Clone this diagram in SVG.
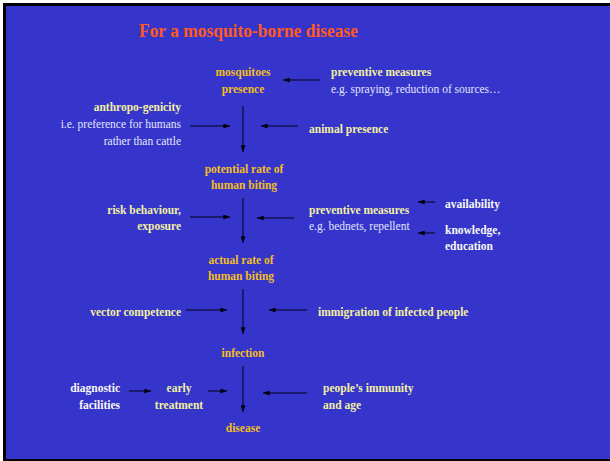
<svg xmlns="http://www.w3.org/2000/svg" width="610" height="461" viewBox="0 0 610 461">
<defs>
<marker id="ah" viewBox="0 0 8 6" refX="8" refY="3" markerWidth="7" markerHeight="5" markerUnits="userSpaceOnUse" orient="auto">
<path d="M0,0 L8,3 L0,6 z" fill="#000010"/>
</marker>
<style>
.node{fill:#F2BE22;font-weight:bold;text-anchor:middle}
.fac{fill:#F2F0A0;font-weight:bold}
.note{fill:#E4E4F8}
.wb{fill:#F8F8F0;font-weight:bold}
.title{fill:#FF5A1E;font-weight:bold;font-size:19px}
.r{text-anchor:end}
.m{text-anchor:middle}
#connectors line{stroke:#000010;stroke-width:1;marker-end:url(#ah)}
</style>
</defs>
<rect x="0" y="0" width="610" height="461" fill="#ffffff"/>
<rect x="3" y="3" width="607" height="458" fill="#000000"/>
<rect x="6" y="6" width="604" height="453" fill="#3535CC"/>
<g font-family="Liberation Serif, Times New Roman, serif" font-size="11.5">
<text class="title" x="139" y="37" textLength="219" lengthAdjust="spacingAndGlyphs">For a mosquito-borne disease</text>

<g id="mosquitoes-presence"><text class="node" x="243" y="76">mosquitoes</text><text class="node" x="243" y="93">presence</text></g>
<g id="potential-rate"><text class="node" x="244" y="173">potential rate of</text><text class="node" x="244" y="189">human biting</text></g>
<g id="actual-rate"><text class="node" x="241" y="264">actual rate of</text><text class="node" x="241" y="280">human biting</text></g>
<g id="infection"><text class="node" x="243" y="357">infection</text></g>
<g id="disease"><text class="node" x="243" y="432">disease</text></g>

<g id="preventive-spraying"><text class="fac" x="331" y="76">preventive measures</text><text class="note" x="331" y="93">e.g. spraying, reduction of sources…</text></g>
<g id="anthropo-genicity"><text class="fac r" x="181" y="111">anthropo-genicity</text><text class="note r" x="181" y="128">i.e. preference for humans</text><text class="note r" x="181" y="145">rather than cattle</text></g>
<g id="animal-presence"><text class="fac" x="309" y="133">animal presence</text></g>
<g id="risk-behaviour"><text class="fac r" x="181" y="214">risk behaviour,</text><text class="fac r" x="181" y="230">exposure</text></g>
<g id="preventive-bednets"><text class="fac" x="309" y="214">preventive measures</text><text class="note" x="309" y="230">e.g. bednets, repellent</text></g>
<g id="availability"><text class="wb" x="445" y="208">availability</text></g>
<g id="knowledge"><text class="wb" x="445" y="234">knowledge,</text><text class="wb" x="445" y="250">education</text></g>
<g id="vector-competence"><text class="fac r" x="181" y="316">vector competence</text></g>
<g id="immigration"><text class="fac" x="318" y="316">immigration of infected people</text></g>
<g id="diagnostic"><text class="wb r" x="120" y="392">diagnostic</text><text class="wb r" x="120" y="409">facilities</text></g>
<g id="early-treatment"><text class="fac m" x="179" y="392">early</text><text class="fac m" x="179" y="409">treatment</text></g>
<g id="immunity"><text class="fac" x="323" y="392">people’s immunity</text><text class="fac" x="323" y="409">and age</text></g>
</g>
<g id="connectors">
<line x1="320" y1="80" x2="283" y2="80"/>
<line x1="243" y1="106" x2="243" y2="152"/>
<line x1="190" y1="126" x2="230" y2="126"/>
<line x1="298" y1="126" x2="261" y2="126"/>
<line x1="243" y1="198" x2="243" y2="243"/>
<line x1="190" y1="217" x2="230" y2="217"/>
<line x1="294" y1="218" x2="257" y2="218"/>
<line x1="435" y1="202" x2="418" y2="202"/>
<line x1="435" y1="233" x2="418" y2="233"/>
<line x1="243" y1="289" x2="243" y2="334"/>
<line x1="186" y1="310" x2="227" y2="310"/>
<line x1="307" y1="310" x2="269" y2="310"/>
<line x1="243" y1="366" x2="243" y2="412"/>
<line x1="129" y1="391" x2="151" y2="391"/>
<line x1="208" y1="391" x2="227" y2="391"/>
<line x1="307" y1="393" x2="263" y2="393"/>
</g>
</svg>
